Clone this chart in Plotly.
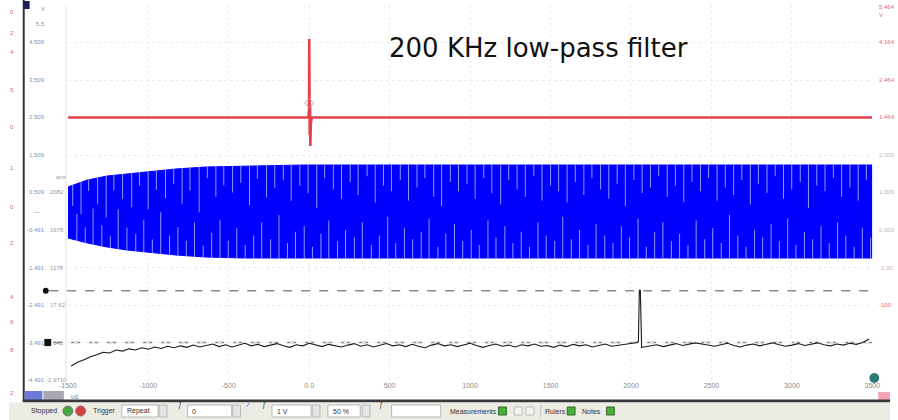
import plotly.graph_objects as go
import numpy as np

W, H = 898, 420
PX_L, PX_R, PX_T, PX_B = 60, 880, 5, 380

# ---------------- data ----------------
X_RANGE = [-1500, 3500]
Y_RANGE = [-4.491, 5.509]

x_ticks = [-1500, -1000, -500, 0, 500, 1000, 1500, 2000, 2500, 3000, 3500]
x_tick_labels = ["-1500", "-1000", "-500", "0.0", "500", "1000", "1500", "2000", "2500", "3000", "3500"]

y_ticks = [-4.491, -3.491, -2.491, -1.491, -0.491, 0.509, 1.509, 2.509, 3.509, 4.509]
y_labels_a = ["-4.491", "-3.491", "-2.491", "-1.491", "-0.491", "0.509", "1.509", "2.509", "3.509", "4.509"]

b_ticks = [-4.491, -3.491, -2.491, -1.491, -0.491, 0.509]
b_labels = ["-2.9710", "142", "17.62", "1178", "1978", "2082"]

# channel A (red) - trigger event
red_t = [-1500, -10, -4, -1, 0, 1, 3, 5, 7, 10, 16, 3500]
red_v = [2.509, 2.509, 2.55, 2.70, 4.60, 2.40, 2.05, 2.80, 1.75, 2.35, 2.509, 2.509]
trigger_t = [0]
trigger_v = [2.896]

# channel B (blue) - envelope of the dense oscillation
env_t = [-1500, -1378, -1256, -1134, -1012, -829, -646, -402, -37, 3500]
env_top = [0.656, 0.842, 0.949, 1.002, 1.056, 1.136, 1.189, 1.216, 1.242, 1.242]
env_bot = [-0.704, -0.838, -0.944, -1.024, -1.078, -1.158, -1.211, -1.238, -1.238, -1.238]

top_streak_t = [-1470, -1418, -1371, -1315, -1262, -1214, -1160, -1103, -1055, -1001,
                -950, -893, -842, -790, -741, -684, -633, -580, -531, -476,
                -425, -371, -322, -265, -214, -161, -112, -58, -7, 47,
                96, 150, 201, 255, 304, 360, 410, 462, 511, 566,
                617, 670, 719, 774, 823, 877, 928, 981, 1031, 1085,
                1135, 1190, 1240, 1292, 1343, 1396, 1447, 1500, 1550, 1603,
                1654, 1707, 1757, 1811, 1862, 1914, 1965, 2018, 2069, 2121,
                2172, 2225, 2276, 2328, 2379, 2432, 2482, 2535, 2586, 2638,
                2689, 2742, 2792, 2845, 2896, 2948, 2999, 3052, 3103, 3155,
                3206, 3258, 3309, 3361, 3412, 3463]
top_streak_len = [0.55, 0.85, 0.30, 0.70, 1.10, 0.40, 0.65, 0.90, 0.35, 1.00,
                  0.50, 0.75, 0.40, 0.95, 0.60, 1.20, 0.30, 0.80, 0.50, 0.70,
                  0.45, 1.05, 0.35, 0.85, 0.60, 0.40, 0.95, 0.55, 0.75, 1.15,
                  0.35, 0.65, 0.90, 0.45, 0.80, 0.30, 1.00, 0.55, 0.70, 0.40,
                  0.95, 0.60, 0.35, 0.85, 1.10, 0.45, 0.70, 0.50, 0.90, 0.35,
                  0.75, 1.05, 0.40, 0.65, 0.85, 0.30, 0.95, 0.55, 0.70, 1.00,
                  0.45, 0.80, 0.35, 0.65, 0.90, 0.50, 1.10, 0.40, 0.75, 0.60,
                  0.30, 0.85, 0.55, 1.00, 0.45, 0.70, 0.35, 0.95, 0.60, 0.80,
                  0.40, 1.05, 0.50, 0.75, 0.30, 0.90, 0.65, 0.45, 1.15, 0.55,
                  0.70, 0.35, 0.85, 0.60, 0.95, 0.40]
bot_streak_t = [-1444, -1392, -1343, -1289, -1236, -1187, -1133, -1078, -1028, -975,
                -923, -868, -816, -764, -713, -659, -606, -554, -503, -450,
                -398, -345, -295, -240, -188, -135, -85, -31, 20, 73,
                122, 176, 226, 281, 330, 386, 436, 488, 538, 592,
                643, 696, 745, 800, 849, 903, 954, 1007, 1057, 1111,
                1161, 1216, 1266, 1318, 1369, 1422, 1473, 1526, 1576, 1629,
                1680, 1733, 1783, 1837, 1888, 1940, 1991, 2044, 2095, 2147,
                2198, 2251, 2302, 2354, 2405, 2458, 2508, 2561, 2612, 2664,
                2715, 2768, 2818, 2871, 2922, 2974, 3025, 3078, 3129, 3181,
                3232, 3284, 3335, 3387, 3438, 3489]
bot_streak_len = [0.70, 0.40, 0.95, 0.55, 0.30, 1.05, 0.60, 0.45, 0.85, 0.35,
                  1.10, 0.50, 0.75, 0.40, 0.90, 0.30, 0.65, 1.00, 0.45, 0.80,
                  0.35, 0.60, 0.95, 0.50, 1.15, 0.40, 0.70, 0.85, 0.30, 0.65,
                  1.00, 0.45, 0.75, 0.55, 0.95, 0.35, 0.60, 1.10, 0.40, 0.80,
                  0.50, 0.70, 1.05, 0.30, 0.65, 0.90, 0.45, 0.75, 0.35, 1.00,
                  0.55, 0.85, 0.40, 0.70, 0.30, 0.95, 0.60, 0.45, 1.10, 0.50,
                  0.75, 0.35, 0.90, 0.60, 0.40, 0.85, 0.55, 1.05, 0.30, 0.70,
                  0.95, 0.45, 0.65, 0.35, 1.00, 0.50, 0.80, 0.40, 1.15, 0.60,
                  0.30, 0.75, 0.55, 0.90, 0.45, 1.05, 0.35, 0.70, 0.50, 0.85,
                  0.40, 0.95, 0.60, 0.30, 0.80, 0.55]

# third channel (black) - sampled every 40 us
black_t0 = -1480
black_dt = 40
black_v = [-4.12, -4.02, -3.95, -3.87, -3.82, -3.75, -3.77, -3.69, -3.72, -3.66,
           -3.69, -3.63, -3.67, -3.61, -3.65, -3.59, -3.63, -3.58, -3.62, -3.56,
           -3.61, -3.57, -3.53, -3.60, -3.55, -3.61, -3.56, -3.51, -3.58, -3.54,
           -3.60, -3.56, -3.52, -3.58, -3.62, -3.55, -3.58, -3.51, -3.56, -3.60,
           -3.54, -3.58, -3.61, -3.56, -3.52, -3.59, -3.55, -3.61, -3.57, -3.52,
           -3.58, -3.55, -3.60, -3.54, -3.59, -3.63, -3.56, -3.52, -3.58, -3.55,
           -3.60, -3.56, -3.51, -3.57, -3.62, -3.57, -3.53, -3.59, -3.56, -3.61,
           -3.55, -3.58, -3.53, -3.59, -3.57, -3.62, -3.56, -3.60, -3.54, -3.58,
           -3.55, -3.61, -3.57, -3.53, -3.59, -3.56, -3.54, -3.50, -3.49, -3.61,
           -3.58, -3.55, -3.60, -3.56, -3.52, -3.57, -3.54, -3.50, -3.53, -3.56,
           -3.59, -3.55, -3.51, -3.57, -3.61, -3.56, -3.53, -3.58, -3.54, -3.50,
           -3.55, -3.59, -3.56, -3.52, -3.57, -3.54, -3.50, -3.55, -3.58, -3.53,
           -3.56, -3.51, -3.54, -3.49, -3.40]
black_spike_t = [2046, 2052, 2058, 2066]
black_spike_v = [-3.46, -2.10, -2.10, -3.62]

offset_levels = [-2.11, -3.491]

title_text = "200 KHz low-pass filter"


# ---------------- helpers ----------------
def px(x):
    return x / W


def py(y):
    return 1 - y / H


SMALL = "Liberation Sans"
fig = go.Figure()

# blue band (fill between envelopes)
fig.add_trace(go.Scatter(x=env_t, y=env_top, mode="lines",
                         line=dict(color="#0000ff", width=1), hoverinfo="skip"))
fig.add_trace(go.Scatter(x=env_t, y=env_bot, mode="lines", fill="tonexty",
                         fillcolor="#0000ff", line=dict(color="#0000ff", width=1),
                         hoverinfo="skip"))

# light streaks inside the band
sx, sy = [], []
for t, L in zip(top_streak_t, top_streak_len):
    top = float(np.interp(t, env_t, env_top))
    sx += [t, t, None]
    sy += [top + 0.02, top - L, None]
for t, L in zip(bot_streak_t, bot_streak_len):
    bot = float(np.interp(t, env_t, env_bot))
    sx += [t, t, None]
    sy += [bot - 0.02, bot + L, None]
fig.add_trace(go.Scatter(x=sx, y=sy, mode="lines",
                         line=dict(color="rgba(170,176,255,0.85)", width=1),
                         hoverinfo="skip"))

# black trace
bt = [black_t0 + black_dt * i for i in range(len(black_v))] + black_spike_t
bv = list(black_v) + black_spike_v
order = np.argsort(bt, kind="stable")
fig.add_trace(go.Scatter(x=[bt[i] for i in order], y=[bv[i] for i in order], mode="lines",
                         line=dict(color="#1a1a1a", width=1.1), hoverinfo="skip"))

# red trace
fig.add_trace(go.Scatter(x=red_t, y=red_v, mode="lines",
                         line=dict(color="#e2414d", width=2.6), hoverinfo="skip"))
fig.add_trace(go.Scatter(x=trigger_t, y=trigger_v, mode="markers",
                         marker=dict(symbol="diamond-open", size=7, color="#c9a080",
                                     line=dict(width=1)), hoverinfo="skip"))

shapes = []
annotations = []

# offset dashed lines with markers
for lvl, x0 in zip(offset_levels, [41, 45]):
    shapes.append(dict(type="line", xref="paper", yref="y", x0=px(x0), x1=px(PX_R),
                       y0=lvl, y1=lvl, line=dict(color="#8c8c8c", width=1.4, dash="dash"),
                       layer="below"))
shapes.append(dict(type="circle", xref="paper", yref="y", x0=px(34.5), x1=px(40.5),
                   y0=offset_levels[0] - 0.08, y1=offset_levels[0] + 0.08,
                   fillcolor="#111", line=dict(width=0)))
shapes.append(dict(type="rect", xref="paper", yref="y", x0=px(36), x1=px(43),
                   y0=offset_levels[1] - 0.095, y1=offset_levels[1] + 0.095,
                   fillcolor="#111", line=dict(width=0)))

# plot left border (faint)
shapes.append(dict(type="line", xref="paper", yref="paper", x0=px(58), x1=px(58),
                   y0=py(PX_T), y1=py(PX_B), line=dict(color="#e4e4e4", width=1)))
# left heavy border
shapes.append(dict(type="rect", xref="paper", yref="paper", x0=px(14), x1=px(16),
                   y0=py(402), y1=py(0), fillcolor="#2e2e2e", line=dict(width=0)))
shapes.append(dict(type="rect", xref="paper", yref="paper", x0=px(15), x1=px(21),
                   y0=py(9), y1=py(1), fillcolor="#1d1d5e", line=dict(width=0)))

# bottom channel boxes
shapes.append(dict(type="rect", xref="paper", yref="paper", x0=px(16), x1=px(34),
                   y0=py(400), y1=py(391), fillcolor="#6a7ad8", line=dict(width=0)))
shapes.append(dict(type="rect", xref="paper", yref="paper", x0=px(35), x1=px(56),
                   y0=py(400), y1=py(391), fillcolor="#a8a8b0", line=dict(width=0)))
annotations.append(dict(x=px(61), y=py(396), xref="paper", yref="paper", text="us",
                        showarrow=False, xanchor="left", yanchor="middle",
                        font=dict(family=SMALL, size=7, color="#888")))

# teal marker & pink tab bottom-right
shapes.append(dict(type="circle", xref="paper", yref="paper", x0=px(877), x1=px(887),
                   y0=py(383), y1=py(373), fillcolor="#2f7a78", line=dict(width=0)))
shapes.append(dict(type="rect", xref="paper", yref="paper", x0=px(886), x1=px(898),
                   y0=py(400), y1=py(392), fillcolor="#f2a6b6", line=dict(width=0)))

# toolbar
shapes.append(dict(type="rect", xref="paper", yref="paper", x0=px(14), x1=px(898),
                   y0=py(402.5), y1=py(399.5), fillcolor="#3a3a3a", line=dict(width=0)))
shapes.append(dict(type="rect", xref="paper", yref="paper", x0=0, x1=1,
                   y0=0, y1=py(402.5), fillcolor="#ecebe4", line=dict(width=0)))

boxes = [(115, 152, "Repeat"), (182, 227, "0"), (268, 308, "1 V"), (325, 358, "50 %"), (390, 440, "")]
for x0, x1, txt in boxes:
    shapes.append(dict(type="rect", xref="paper", yref="paper", x0=px(x0), x1=px(x1),
                       y0=py(417), y1=py(405), fillcolor="#ffffff",
                       line=dict(color="#b8b8b8", width=1)))
    if txt:
        annotations.append(dict(x=px(x0 + 3), y=py(411), xref="paper", yref="paper", text=txt,
                                showarrow=False, xanchor="left", yanchor="middle",
                                font=dict(family=SMALL, size=7, color="#333")))
for x0 in [153, 228, 309, 360]:
    shapes.append(dict(type="rect", xref="paper", yref="paper", x0=px(x0), x1=px(x0 + 8),
                       y0=py(417), y1=py(405), fillcolor="#e4e4e4",
                       line=dict(color="#b8b8b8", width=1)))

for cx, col in [(60, "#45a845"), (73, "#d84040")]:
    shapes.append(dict(type="circle", xref="paper", yref="paper", x0=px(cx - 5), x1=px(cx + 5),
                       y0=py(416), y1=py(406), fillcolor=col, line=dict(color="#777", width=1)))
for cx in [503, 573, 613]:
    shapes.append(dict(type="rect", xref="paper", yref="paper", x0=px(cx - 4), x1=px(cx + 4),
                       y0=py(415), y1=py(407), fillcolor="#4cae3c", line=dict(color="#2d6b25", width=1)))
for x0 in [515, 527]:
    shapes.append(dict(type="rect", xref="paper", yref="paper", x0=px(x0), x1=px(x0 + 8),
                       y0=py(415), y1=py(407), fillcolor="#f4f4f4", line=dict(color="#bbbbbb", width=1)))
shapes.append(dict(type="line", xref="paper", yref="paper", x0=px(542), x1=px(542),
                   y0=py(417), y1=py(405), line=dict(color="#c0c0c0", width=1)))
for cx, col, sym in [(170, "#555", "ƒ"), (240, "#3a6fd8", "⁄"), (256, "#555", "ƒ"), (380, "#555", "ƒ")]:
    annotations.append(dict(x=px(cx), y=py(411), xref="paper", yref="paper", text=sym,
                            showarrow=False, font=dict(size=9, color=col)))

for cx, txt in [(36, "Stopped"), (97, "Trigger"), (473, "Measurements"), (557, "Rulers"), (594, "Notes")]:
    annotations.append(dict(x=px(cx), y=py(411), xref="paper", yref="paper", text=txt,
                            showarrow=False, xanchor="center", yanchor="middle",
                            font=dict(family=SMALL, size=7, color="#333")))

# left axis labels (column A)
for v, t in zip(y_ticks, y_labels_a):
    annotations.append(dict(x=px(17 if t.startswith("-") else 19), y=v, xref="paper", yref="y", text=t,
                            showarrow=False, xanchor="left", yanchor="middle", borderpad=0,
                            font=dict(family=SMALL, size=6, color="#8393b3")))
annotations.append(dict(x=px(27), y=5.0, xref="paper", yref="y", text="5.5", showarrow=False,
                        xanchor="left", yanchor="middle", borderpad=0,
                        font=dict(family=SMALL, size=6, color="#8393b3")))
annotations.append(dict(x=px(32), y=5.4, xref="paper", yref="y", text="V", showarrow=False,
                        xanchor="left", yanchor="middle", borderpad=0,
                        font=dict(family=SMALL, size=6, color="#8393b3")))
# column B
b_x = {"-2.9710": 37, "142": 44}
for v, t in zip(b_ticks, b_labels):
    annotations.append(dict(x=px(b_x.get(t, 41)), y=v, xref="paper", yref="y", text=t,
                            showarrow=False, xanchor="left", yanchor="middle", borderpad=0,
                            font=dict(family=SMALL, size=6, color="#9a9a9a")))
annotations.append(dict(x=px(47), y=0.92, xref="paper", yref="y", text="ans", showarrow=False,
                        xanchor="left", yanchor="middle", borderpad=0,
                        font=dict(family=SMALL, size=6, color="#9a9a9a")))
annotations.append(dict(x=px(24), y=-0.01, xref="paper", yref="y", text="—", showarrow=False,
                        xanchor="left", yanchor="middle", borderpad=0,
                        font=dict(family=SMALL, size=6, color="#8393b3")))

# right axis labels (partially visible)
right_v = [5.45, 5.25, 4.509, 3.509, 2.509, 1.509, 0.509, -0.491, -1.491, -2.491]
right_txt = ["5.464", "V", "4.164", "2.464", "1.464", "2.000", "1.000", "0.000", "-1.00", "-100"]
right_col = ["#e06a78", "#e06a78", "#e06a78", "#e06a78", "#e06a78",
             "#c9b0b0", "#c9b0b0", "#c9b0b0", "#c9b0b0", "#e06a78"]
for v, t, c in zip(right_v, right_txt, right_col):
    annotations.append(dict(x=px(886), y=v, xref="paper", yref="y", text=t, showarrow=False,
                            xanchor="left", yanchor="middle", borderpad=0,
                            font=dict(family=SMALL, size=6, color=c)))

# far-left red labels
left_red_y = [12, 33, 52, 90, 127, 168, 207, 243, 297, 322, 350, 393]
left_red_t = ["0", "2", "4", "5", "0", "1", "0", "2", "4", "6", "8", "2"]
for y, t in zip(left_red_y, left_red_t):
    annotations.append(dict(x=px(3), y=py(y), xref="paper", yref="paper", text=t, showarrow=False,
                            xanchor="center", yanchor="middle", font=dict(family=SMALL, size=6, color="#e0606a")))

# title
annotations.append(dict(x=px(540), y=py(48), xref="paper", yref="paper", text=title_text,
                        showarrow=False, xanchor="center", yanchor="middle",
                        font=dict(family="DejaVu Sans", size=26, color="#111")))

fig.update_layout(
    width=W, height=H,
    margin=dict(l=0, r=0, t=0, b=0),
    paper_bgcolor="#ffffff", plot_bgcolor="#ffffff",
    showlegend=False,
    shapes=shapes, annotations=annotations,
    font=dict(family=SMALL),
    xaxis=dict(domain=[px(PX_L), px(PX_R)], range=X_RANGE, tickvals=x_ticks, ticktext=x_tick_labels,
               showgrid=True, gridcolor="#ececec", griddash="dot", zeroline=False, showline=False,
               ticks="", tickfont=dict(family=SMALL, size=7, color="#8a8a8a"), fixedrange=True),
    yaxis=dict(domain=[py(PX_B), py(PX_T)], range=Y_RANGE, tickvals=y_ticks,
               showgrid=True, gridcolor="#ececec", griddash="dot", zeroline=False, showline=False,
               showticklabels=False, ticks="", fixedrange=True),
)

fig.write_html("out.html")
